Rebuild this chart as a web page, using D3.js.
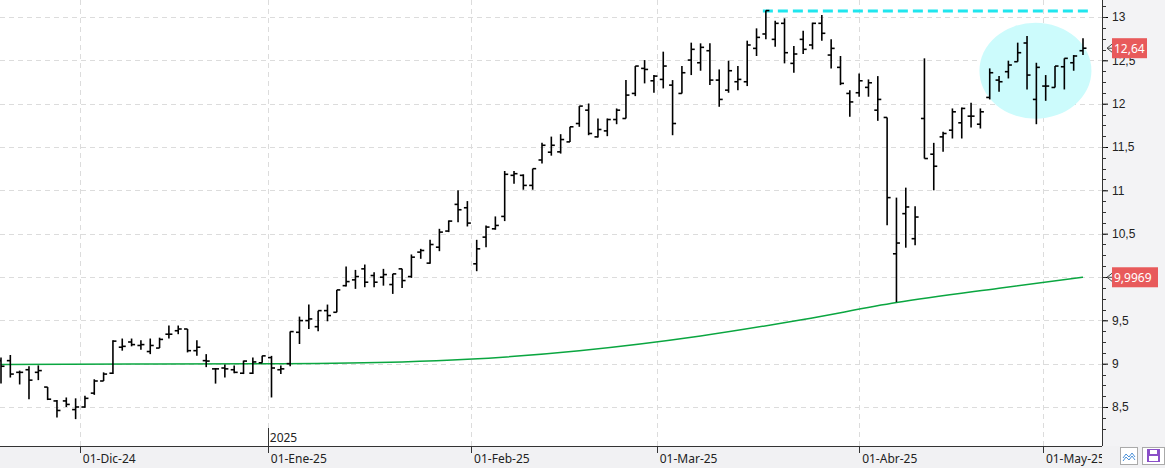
<!DOCTYPE html>
<html>
<head>
<meta charset="utf-8">
<script src="https://cdn.jsdelivr.net/npm/d3@7"></script>
<style>
  body { margin: 0; background: #fff; }
  svg { display: block; font-family: "Noto Sans", "DejaVu Sans", sans-serif; }
</style>
</head>
<body>
<div id="chart"></div>
<script>
// daily bars, oldest first
const opens = [9.035,9.035,8.90,8.93,8.90,8.73,8.57,8.57,8.47,8.50,8.66,8.80,8.89,9.19,9.25,9.21,9.14,9.18,9.34,9.38,
  9.40,9.15,9.035,8.94,8.95,8.93,8.89,8.89,9.01,9.07,8.93,9.00,9.362,9.497,9.427,9.612,9.593,9.90,9.967,10.094,
  10.017,9.998,9.913,10.094,10.005,10.287,10.16,10.344,10.53,10.838,10.799,10.152,10.46,10.556,10.699,11.173,11.173,11.057,11.35,11.44,
  11.444,11.559,11.771,11.925,11.617,11.686,11.817,11.829,12.118,12.407,12.264,12.28,12.214,12.118,12.503,12.472,12.611,12.272,12.156,12.253,
  12.253,12.638,12.804,12.742,12.927,12.465,12.742,12.677,12.927,12.561,12.419,12.118,12.126,12.188,11.925,11.841,10.268,10.731,10.442,11.829,
  11.417,11.617,11.694,11.779,11.856,11.763,12.072,12.272,12.369,12.484,12.70,12.049,12.203,12.187,12.426,12.472,12.611];
const highs = [9.07,9.10,8.92,8.97,8.98,8.73,8.58,8.61,8.60,8.63,8.82,8.90,9.27,9.29,9.29,9.27,9.29,9.30,9.44,9.44,
  9.40,9.27,9.11,8.95,8.99,8.98,9.035,9.07,9.09,9.09,8.98,9.37,9.543,9.682,9.612,9.682,9.851,10.12,10.082,10.144,
  10.055,10.094,10.036,10.094,10.26,10.325,10.429,10.556,10.653,11.0,10.876,10.429,10.595,10.699,11.223,11.223,11.185,11.25,11.55,11.62,
  11.648,11.733,11.972,12.002,11.829,11.829,11.945,12.272,12.434,12.503,12.33,12.6,12.272,12.434,12.704,12.696,12.696,12.395,12.496,12.434,
  12.727,12.869,13.074,12.958,12.985,12.665,12.842,12.935,13.024,12.742,12.55,12.156,12.349,12.28,12.318,11.841,10.916,11.031,10.815,12.523,
  11.548,11.675,11.945,11.956,12.01,11.945,12.407,12.318,12.496,12.704,12.781,12.472,12.33,12.434,12.523,12.561,12.754];
const lows = [8.77,8.84,8.76,8.59,8.81,8.58,8.38,8.50,8.36,8.49,8.64,8.80,8.88,9.15,9.20,9.16,9.11,9.18,9.29,9.34,
  9.13,9.09,8.96,8.77,8.84,8.89,8.88,8.88,9.01,8.61,8.88,8.97,9.227,9.40,9.373,9.489,9.593,9.89,9.863,9.882,
  9.882,9.90,9.805,9.874,9.99,10.21,10.152,10.298,10.518,10.633,10.583,10.067,10.344,10.545,10.645,11.077,11.007,11.007,11.31,11.40,
  11.424,11.559,11.733,11.636,11.609,11.625,11.763,11.829,12.087,12.234,12.126,12.176,11.636,12.118,12.33,12.38,12.214,11.964,12.126,12.156,
  12.203,12.55,12.742,12.658,12.465,12.357,12.573,12.627,12.727,12.407,12.214,11.848,12.079,12.08,11.802,10.596,9.71,10.338,10.365,11.367,
  11.0,11.444,11.598,11.598,11.725,11.713,12.049,12.137,12.291,12.484,12.164,11.763,12.033,12.187,12.164,12.38,12.561];
const closes = [8.97,8.88,8.90,8.81,8.92,8.59,8.46,8.53,8.50,8.60,8.80,8.88,9.26,9.20,9.22,9.22,9.21,9.28,9.34,9.40,
  9.15,9.19,9.03,8.94,8.94,8.90,9.03,9.02,9.09,8.95,8.94,9.37,9.497,9.516,9.612,9.555,9.851,9.947,10.005,9.94,
  9.94,10.028,10.036,9.959,10.229,10.306,10.375,10.518,10.645,10.776,10.622,10.325,10.576,10.595,11.185,11.192,11.057,11.25,11.52,11.52,
  11.586,11.733,11.972,11.656,11.702,11.817,11.925,12.099,12.434,12.395,12.318,12.434,11.771,12.357,12.627,12.65,12.272,12.049,12.38,12.28,
  12.677,12.765,13.074,12.927,12.588,12.573,12.627,12.927,12.812,12.638,12.234,12.02,12.264,12.241,12.049,10.916,10.392,10.808,10.692,11.367,
  11.278,11.656,11.906,11.945,11.856,11.906,12.357,12.253,12.446,12.588,12.33,12.419,12.203,12.434,12.523,12.55,12.64];

// moving average, read at a few bars
const maIndex = [0, 14, 30, 43, 50, 62, 75, 86, 96, 107, 116];
const maValues = [8.99, 8.995, 9.0, 9.02, 9.05, 9.15, 9.32, 9.51, 9.705, 9.87, 9.9969];

const monthLabels = ["01-Dic-24", "01-Ene-25", "01-Feb-25", "01-Mar-25", "01-Abr-25", "01-May-25"];
const monthIndex = [8.45, 28.6, 50.4, 70.3, 92.0, 111.7];
const yearLabel = "2025";
const resistance = 13.07;
const lastPrice = 12.64;
const lastMA = 9.9969;

const W = 1165, H = 468;
const plotRight = 1102, axisY = 446;

const x = d3.scaleLinear().domain([0, 116]).range([1, 1083]);
const y = d3.scaleLinear().domain([8.5, 13]).range([407, 17]);
const fmt = v => String(v).replace(".", ",");

const svg = d3.select("#chart").append("svg").attr("width", W).attr("height", H);

svg.append("clipPath").attr("id", "plot")
  .append("rect").attr("x", 0).attr("y", 0).attr("width", plotRight).attr("height", axisY);

// grid
const grid = svg.append("g").attr("stroke", "#dcdcdc").attr("stroke-dasharray", "5,4");
grid.selectAll("line.h").data(d3.range(8.5, 13.01, 0.5)).enter().append("line")
  .attr("x1", 0).attr("x2", plotRight).attr("y1", d => Math.round(y(d)) + 0.5).attr("y2", d => Math.round(y(d)) + 0.5);
grid.selectAll("line.v").data(monthIndex).enter().append("line")
  .attr("x1", d => Math.round(x(d)) + 0.5).attr("x2", d => Math.round(x(d)) + 0.5).attr("y1", 0).attr("y2", axisY);

const plot = svg.append("g").attr("clip-path", "url(#plot)");

// highlight ellipse
plot.append("ellipse")
  .attr("cx", x(110.9)).attr("cy", y(12.38)).attr("rx", 56).attr("ry", 48)
  .attr("fill", "#ccfbfc");

// resistance
plot.append("line")
  .attr("x1", x(82) - 3).attr("x2", 1090).attr("y1", y(resistance)).attr("y2", y(resistance))
  .attr("stroke", "#1fe6ee").attr("stroke-width", 3).attr("stroke-dasharray", "10,5");

// moving average
const maPts = maIndex.map((d, i) => [d, maValues[i]]);
plot.append("path").datum(maPts)
  .attr("fill", "none").attr("stroke", "#0aa640").attr("stroke-width", 1.5)
  .attr("d", d3.line().x(d => x(d[0])).y(d => y(d[1])).curve(d3.curveMonotoneX));

// OHLC bars
const bars = plot.append("g").attr("stroke", "#000").attr("stroke-width", 1.6);
const idx = d3.range(opens.length);
bars.selectAll("line.hl").data(idx).enter().append("line")
  .attr("x1", i => x(i)).attr("x2", i => x(i)).attr("y1", i => y(highs[i])).attr("y2", i => y(lows[i]));
bars.selectAll("line.o").data(idx).enter().append("line")
  .attr("x1", i => x(i) - 3.5).attr("x2", i => x(i)).attr("y1", i => y(opens[i])).attr("y2", i => y(opens[i]));
bars.selectAll("line.c").data(idx).enter().append("line")
  .attr("x1", i => x(i)).attr("x2", i => x(i) + 3.5).attr("y1", i => y(closes[i])).attr("y2", i => y(closes[i]));

// right axis panel
svg.append("rect").attr("x", plotRight).attr("y", 0).attr("width", W - plotRight).attr("height", H).attr("fill", "#f3f3f5");
svg.append("rect").attr("x", 0).attr("y", axisY).attr("width", W).attr("height", H - axisY).attr("fill", "#f1f1f3");

const yAxis = d3.axisRight(y).tickValues(d3.range(8.5, 13.01, 0.5)).tickFormat(fmt).tickSize(6).tickPadding(4);
const ya = svg.append("g").attr("transform", `translate(${plotRight},0)`).call(yAxis);
ya.select(".domain").attr("d", `M0.5,0V${axisY}`).attr("stroke", "#333");
ya.selectAll("text").attr("font-size", 12).attr("fill", "#222");
svg.append("g").attr("transform", `translate(${plotRight},0)`)
  .selectAll("line").data(d3.range(8.25, 13.3, 0.125)).enter().append("line")
  .attr("x1", 0).attr("x2", 4).attr("y1", d => Math.round(y(d)) + 0.5).attr("y2", d => Math.round(y(d)) + 0.5)
  .attr("stroke", "#333");

// price tags
[[lastPrice, "12,64"], [lastMA, "9,9969"]].forEach(([v, t]) => {
  const yy = y(v);
  svg.append("path").attr("d", `M${plotRight + 10},${yy - 4}L${plotRight + 5},${yy}L${plotRight + 10},${yy + 4}M${plotRight + 5},${yy}H${plotRight + 12}`)
    .attr("stroke", "#444").attr("fill", "none");
  svg.append("rect").attr("x", 1112).attr("y", yy - 10).attr("width", t.length > 5 ? 46 : 35).attr("height", 20).attr("fill", "#e85a5b");
  svg.append("text").attr("x", 1114).attr("y", yy + 4.5).attr("font-size", 12).attr("fill", "#fff").text(t);
});

// x axis
svg.append("line").attr("x1", 0).attr("x2", plotRight).attr("y1", axisY + 0.5).attr("y2", axisY + 0.5).attr("stroke", "#333");
const xa = svg.append("g");
xa.selectAll("line").data(monthIndex).enter().append("line")
  .attr("x1", d => Math.round(x(d)) + 0.5).attr("x2", d => Math.round(x(d)) + 0.5)
  .attr("y1", axisY).attr("y2", axisY + 7).attr("stroke", "#333");
xa.selectAll("text").data(monthLabels).enter().append("text")
  .attr("x", (d, i) => x(monthIndex[i]) + 3).attr("y", 463).attr("font-size", 12).attr("fill", "#222").text(d => d);
svg.append("line").attr("x1", Math.round(x(monthIndex[1])) + 0.5).attr("x2", Math.round(x(monthIndex[1])) + 0.5)
  .attr("y1", 428).attr("y2", axisY).attr("stroke", "#333");
svg.append("text").attr("x", x(monthIndex[1]) + 2).attr("y", 442).attr("font-size", 12).attr("fill", "#222").text(yearLabel);

// cover tail of last label like the original
svg.append("rect").attr("x", plotRight).attr("y", axisY + 1).attr("width", W - plotRight).attr("height", H - axisY).attr("fill", "#f1f1f3");

// buttons
svg.append("rect").attr("x", 1120.5).attr("y", 447.5).attr("width", 17).attr("height", 17).attr("fill", "#fff").attr("stroke", "#aaa");
svg.append("path").attr("d", "M1123,458l3,-4l3,3l3,-4l3,4M1123,461l3,-4l3,3l3,-4l3,4").attr("stroke", "#4a90d9").attr("fill", "none");
svg.append("rect").attr("x", 1142.5).attr("y", 447.5).attr("width", 22).attr("height", 17).attr("fill", "#fff").attr("stroke", "#aaa");
svg.append("rect").attr("x", 1147).attr("y", 449).attr("width", 13).attr("height", 13).attr("fill", "#8a4fc8");
svg.append("rect").attr("x", 1150).attr("y", 450).attr("width", 7).attr("height", 4).attr("fill", "#fff");
svg.append("rect").attr("x", 1149).attr("y", 456).attr("width", 9).attr("height", 5).attr("fill", "#fff");
</script>
</body>
</html>
